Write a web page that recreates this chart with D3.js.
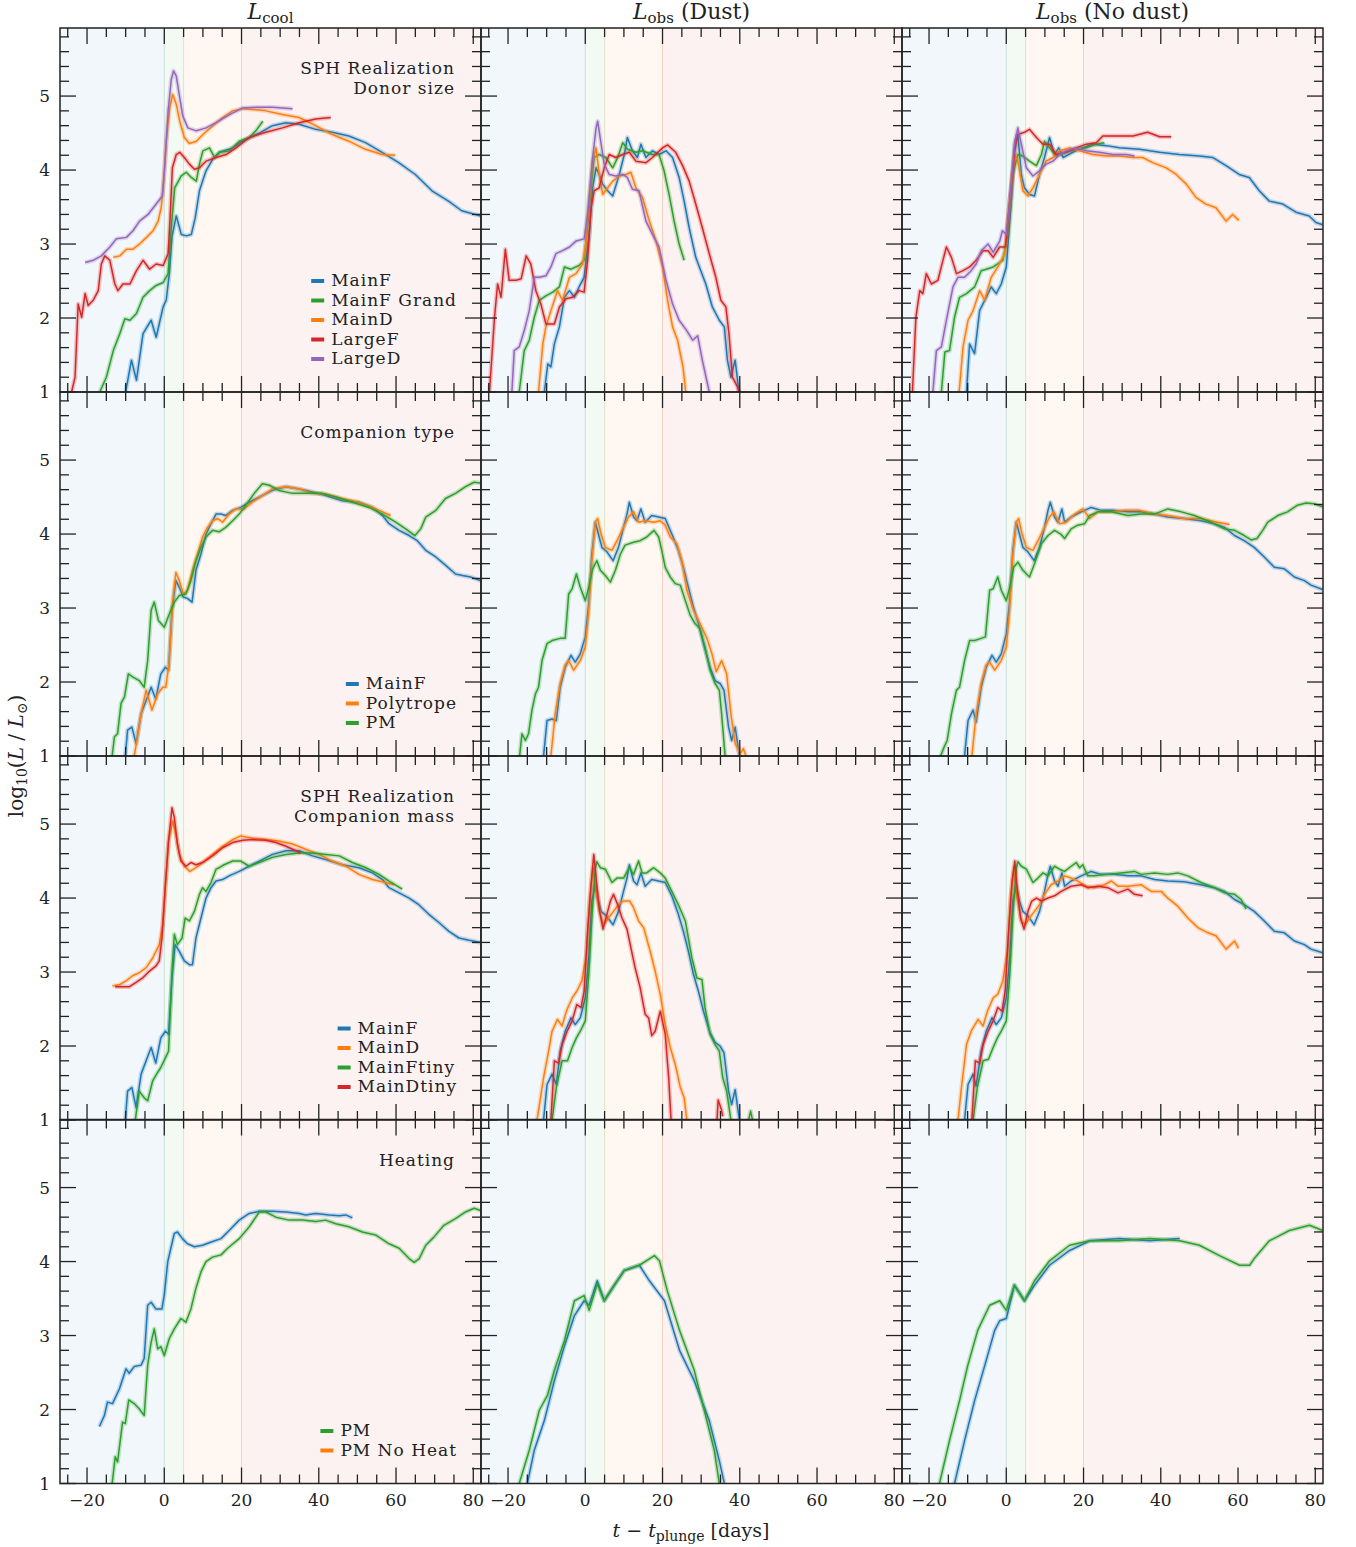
<!DOCTYPE html>
<html lang="en">
<head>
<meta charset="UTF-8">
<title>Luminosity comparison</title>
<script src="https://d3js.org/d3.v7.min.js"></script>
<style>
  body { margin: 0; background: #fff; }
  svg text { font-family: "DejaVu Serif", serif; fill: #222; }
</style>
</head>
<body>
<svg id="chart" width="1356" height="1547"></svg>
<script>
// ---- data: [t - t_plunge (days), log10(L/Lsun)] ----
const colTitles = ["cool", "Dust", "No dust"];
const xTicks = [-20, 0, 20, 40, 60, 80];
const yTicks = [1, 2, 3, 4, 5];

// row 1: donor size / SPH realization
const r1CoolMainF = [[-10,1.0],[-8.5,1.43],[-7.2,1.16],[-5.5,1.79],[-3.4,1.97],[-2.1,1.74],[-0.3,2.15],[0.5,2.24],[1.3,2.6],[2,3.1],[3.1,3.38],[4.4,3.13],[5.7,3.11],[7,3.13],[8,3.35],[9.1,3.72],[10.8,3.99],[12.6,4.15],[14.3,4.24],[17.7,4.3],[20.3,4.39],[24.6,4.5],[28,4.6],[31.5,4.64],[34.9,4.62],[39.2,4.55],[43.5,4.51],[47.8,4.46],[52.1,4.37],[56.4,4.24],[60.7,4.1],[65,3.94],[69.3,3.72],[73.6,3.58],[77,3.45],[81.9,3.38]];
const r1CoolGrand = [[-16.7,1.0],[-15,1.2],[-13.2,1.56],[-11.5,1.79],[-10.2,1.99],[-8.9,1.97],[-7.2,2.06],[-5.5,2.28],[-3.8,2.37],[-2.1,2.44],[-0.3,2.48],[1,2.6],[1.8,3.22],[2.7,3.76],[4.4,3.92],[5.7,3.97],[7,3.9],[8.3,3.85],[9.1,4.08],[10,4.26],[11.7,4.3],[13,4.17],[14.3,4.24],[16.9,4.26],[19.4,4.39],[22,4.44],[23.7,4.53],[25.5,4.66]];
const r1CoolMainD = [[-13.2,2.82],[-11.5,2.84],[-9.8,2.93],[-8.1,2.93],[-6.4,3.0],[-4.6,3.09],[-2.9,3.18],[-1.6,3.31],[-0.8,3.49],[-0.3,3.76],[0.5,4.39],[1.4,4.84],[2.2,5.02],[3.1,4.89],[4,4.66],[5.2,4.44],[6.5,4.36],[8.3,4.39],[10,4.48],[12.6,4.6],[15.1,4.71],[17.7,4.8],[20.3,4.83],[22.9,4.82],[26.3,4.8],[30.6,4.75],[34.9,4.71],[39.2,4.6],[43.5,4.48],[47.8,4.39],[52.1,4.28],[56.4,4.21],[59.8,4.2]];
const r1CoolLargeF = [[-24,1.0],[-23.1,1.2],[-22.3,2.19],[-21.4,2.01],[-20.5,2.33],[-19.7,2.17],[-18.4,2.24],[-17.1,2.37],[-16.3,2.73],[-15.4,2.84],[-14.1,2.78],[-12.8,2.46],[-12,2.37],[-10.7,2.46],[-8.9,2.46],[-7.2,2.64],[-5.5,2.78],[-3.8,2.66],[-2.1,2.73],[-0.3,2.71],[1,2.87],[1.5,3.36],[2.1,4.03],[3.1,4.21],[4,4.24],[5.2,4.17],[6.5,4.08],[7.8,4.01],[9.1,4.03],[10.8,4.12],[13.4,4.17],[16,4.21],[18.6,4.3],[22,4.44],[26.3,4.51],[30.6,4.57],[34.9,4.64],[39.2,4.69],[43.1,4.71]];
const r1CoolLargeD = [[-20.5,2.75],[-18.4,2.78],[-16.3,2.84],[-14.1,2.96],[-12.4,3.07],[-9.8,3.09],[-8.1,3.18],[-6.4,3.31],[-4.2,3.4],[-2.1,3.54],[-0.5,3.65],[0.1,4.03],[1,4.8],[1.8,5.22],[2.4,5.34],[3.1,5.27],[4,4.98],[4.8,4.73],[6.1,4.57],[8.3,4.53],[10.8,4.57],[13.4,4.64],[16.9,4.75],[20.3,4.84],[23.7,4.85],[28,4.85],[33.2,4.83]];

const r1DustMainF = [[-10.6,1],[-9.7,1.38],[-8.9,1.34],[-8,1.65],[-6.7,1.88],[-5.4,2.28],[-4.1,2.37],[-2.8,2.28],[-1.6,2.42],[-0.3,2.55],[1,3.13],[1.9,3.76],[2.8,4.03],[3.6,3.94],[4.5,3.81],[5.8,3.72],[7.1,3.65],[8.8,3.94],[10.1,4.21],[10.9,4.44],[12.2,4.26],[13.5,4.17],[14.4,4.35],[15.7,4.17],[17.4,4.26],[19.1,4.21],[20.9,4.26],[22.6,4.17],[24.3,3.9],[25.6,3.58],[26.9,3.22],[28.6,2.82],[29.9,2.64],[31.2,2.46],[32.9,2.15],[34.7,1.97],[36,1.88],[36.8,1.43],[37.7,1.2],[38.8,1.43],[39.8,1]];
const r1DustGrand = [[-17.1,1],[-15.8,1.56],[-14.5,1.7],[-13.2,2.01],[-11.9,2.24],[-10.2,2.3],[-8.4,2.35],[-6.7,2.42],[-5.4,2.69],[-3.7,2.66],[-1.6,2.71],[-0.3,2.78],[1,3.49],[2.3,4.17],[3.6,4.21],[5.3,4.17],[7.1,4.03],[8.4,4.17],[9.7,4.37],[10.9,4.28],[13.1,4.24],[14.8,4.26],[17.4,4.21],[19.1,4.21],[20.4,3.99],[21.7,3.67],[23,3.31],[24.3,3.0],[25.6,2.78]];
const r1DustMainD = [[-12.1,1],[-11,1.65],[-10.2,1.88],[-8.9,2.1],[-7.2,2.37],[-5.9,2.24],[-4.1,2.55],[-2.4,2.6],[-0.7,2.73],[0.2,3.04],[1,3.58],[1.9,4.12],[2.8,4.3],[3.6,3.94],[4.5,3.67],[5.8,3.76],[7.1,3.85],[8.8,3.92],[10.5,3.94],[11.8,3.97],[13.1,3.76],[14.8,3.63],[16.6,3.31],[18.3,3.04],[20,2.69],[21.3,2.24],[22.6,1.88],[23.9,1.7],[24.7,1.49],[25.3,1.34],[26,1]];
const r1DustLargeF = [[-24.8,1],[-23.5,2.01],[-22.7,2.46],[-21.8,2.28],[-20.7,2.93],[-19.7,2.51],[-17.9,2.51],[-16.6,2.53],[-15.3,2.84],[-14.1,2.73],[-12.8,2.37],[-11.5,2.19],[-10.2,1.92],[-8,1.92],[-6.7,2.15],[-5,2.26],[-3.3,2.28],[-1.6,2.37],[-0.3,2.35],[0.6,2.78],[1.5,3.49],[2.3,3.72],[3.6,3.76],[4.9,4.03],[6.2,4.21],[7.9,4.17],[9.7,4.21],[11.4,4.24],[13.1,4.12],[15.7,4.1],[17.4,4.17],[20,4.3],[21.3,4.34],[23.4,4.24],[25.2,4.06],[26.9,3.85],[28.6,3.54],[30.3,3.22],[32.1,2.87],[33.8,2.55],[35.1,2.24],[36.4,2.15],[37.2,1.79],[38.1,1.2],[39.4,1.07],[39.8,1]];
const r1DustLargeD = [[-19,1],[-18.4,1.56],[-17.1,1.61],[-15.8,1.83],[-14.5,2.1],[-13.2,2.55],[-11.9,2.55],[-10.2,2.57],[-8.9,2.69],[-7.6,2.87],[-5.9,2.91],[-4.1,2.96],[-2.4,3.04],[-0.3,3.07],[0.6,3.4],[1.9,4.17],[2.8,4.57],[3.2,4.66],[4.1,4.35],[4.9,4.08],[6.2,3.94],[7.9,3.92],[9.7,3.94],[10.9,3.9],[12.2,3.74],[13.9,3.72],[15.7,3.31],[17.4,3.13],[19.1,2.96],[20.9,2.51],[22.6,2.19],[24.3,1.97],[26,1.85],[27.8,1.7],[29.1,1.76],[30.3,1.43],[32.1,1]];

const r1NoDustMainF = [[-10.3,1],[-9.5,1.65],[-8.2,1.52],[-6.9,2.1],[-5.2,2.28],[-3.9,2.42],[-2.6,2.33],[-1.3,2.46],[0,2.69],[1.3,3.58],[2.2,4.35],[3,4.48],[3.9,3.94],[4.7,3.76],[6,3.67],[7.3,3.65],[8.6,3.94],[9.9,4.17],[11.2,4.44],[12.5,4.21],[13.6,4.3],[14.7,4.17],[17.2,4.24],[19.8,4.3],[22.4,4.35],[25.9,4.33],[29.3,4.3],[34.5,4.28],[39.7,4.24],[44.8,4.21],[50,4.19],[53.4,4.17],[56.9,4.06],[60.3,3.94],[62.9,3.9],[65.5,3.72],[68.1,3.58],[71.6,3.54],[75,3.43],[78.4,3.38],[80.2,3.29],[81.9,3.26]];
const r1NoDustGrand = [[-16.8,1],[-15.9,1.54],[-14.7,1.56],[-13.4,2.01],[-12.1,2.28],[-10.3,2.33],[-8.2,2.42],[-6.5,2.64],[-5.2,2.66],[-3.4,2.69],[-0.9,2.78],[0.4,3.13],[1.7,3.94],[3,4.21],[4.3,4.19],[6,4.12],[7.8,4.06],[9.1,4.21],[9.9,4.39],[11.2,4.3],[12.9,4.19],[15.5,4.24],[18.1,4.28],[20.7,4.3],[23.3,4.35],[25.4,4.37]];
const r1NoDustMainD = [[-12.2,1],[-11.2,1.61],[-9.9,1.97],[-8.6,2.1],[-6.9,2.37],[-5.6,2.24],[-3.9,2.55],[-2.2,2.69],[-0.4,2.87],[0.9,3.58],[2.2,4.21],[3,4.12],[4.3,3.72],[5.6,3.65],[6.9,3.76],[8.6,3.94],[10.3,4.12],[12.1,4.17],[13.8,4.26],[16.4,4.3],[19,4.26],[22.4,4.21],[25.9,4.19],[29.3,4.19],[32.8,4.17],[35.3,4.17],[37.9,4.1],[41.4,4.03],[44,3.94],[46.6,3.81],[49.1,3.63],[51.7,3.54],[54.3,3.49],[56.9,3.31],[58.6,3.4],[60.2,3.32]];
const r1NoDustLargeF = [[-24.3,1],[-23.4,2.01],[-22.4,2.37],[-21.6,2.33],[-20.7,2.6],[-19.4,2.46],[-17.7,2.51],[-16.4,2.78],[-15.5,2.96],[-14.2,2.82],[-12.9,2.6],[-11.2,2.64],[-9.5,2.69],[-7.8,2.78],[-6,2.91],[-4.7,2.91],[-3.4,2.82],[-1.7,2.96],[-0.2,2.96],[0.9,3.58],[2.2,4.26],[3,4.48],[4.7,4.51],[6,4.55],[7.8,4.44],[9.5,4.35],[11.2,4.35],[12.9,4.21],[15.5,4.24],[18.1,4.3],[20.7,4.35],[23.3,4.37],[25,4.46],[28.4,4.46],[32.8,4.46],[36.6,4.51],[39.7,4.45],[42.7,4.45]];
const r1NoDustLargeD = [[-19,1],[-18.1,1.56],[-16.8,1.61],[-15.5,1.97],[-13.8,2.42],[-12.5,2.55],[-10.8,2.55],[-9.1,2.64],[-7.8,2.73],[-6.5,2.91],[-4.7,3.0],[-3.4,2.89],[-1.7,3.04],[-1,3.18],[0,3.13],[0.9,3.58],[2.2,4.39],[3,4.57],[3.9,4.35],[5.2,4.03],[6.9,3.92],[8.6,3.99],[10.3,4.08],[12.1,4.12],[13.8,4.21],[15.5,4.26],[18.1,4.3],[20.7,4.26],[24.1,4.24],[27.6,4.21],[31,4.21],[33.2,4.19]];

// row 2: companion type
const r2CoolMainF = [[-10.1,1],[-9.5,1.35],[-8.4,1.39],[-7.3,1.17],[-6,1.57],[-4.7,1.75],[-3.4,1.93],[-2.2,1.77],[-0.9,2.11],[0.3,2.2],[1.1,2.16],[2,2.97],[3,3.37],[3.9,3.28],[4.9,3.15],[6,3.13],[7.2,3.08],[8.2,3.51],[9.5,3.73],[10.8,4.0],[12.1,4.14],[13.4,4.27],[14.7,4.27],[15.9,4.25],[17.7,4.32],[19.8,4.36],[22,4.43],[24.6,4.5],[28,4.59],[31.5,4.64],[34.9,4.61],[38.4,4.57],[41.8,4.52],[46.1,4.45],[50.4,4.43],[53.9,4.36],[56.5,4.25],[58.2,4.14],[60.8,4.05],[63.4,3.98],[65.5,3.91],[67.7,3.78],[70.3,3.69],[72.8,3.58],[75.4,3.46],[77.2,3.44],[79.3,3.42],[81.9,3.37]];
const r2CoolPoly = [[-7.8,1],[-7.2,1.17],[-6,1.57],[-4.7,1.89],[-3.2,1.62],[-1.7,1.84],[-0.4,1.93],[0.4,1.93],[1.3,2.29],[2.2,3.1],[3,3.48],[3.9,3.37],[4.9,3.19],[6,3.24],[7.3,3.51],[8.6,3.73],[9.9,3.96],[11.2,4.09],[12.5,4.18],[13.8,4.21],[15.1,4.16],[16.8,4.27],[18.5,4.34],[20.7,4.34],[22.8,4.43],[25.4,4.52],[28,4.61],[31.5,4.64],[34.9,4.61],[38.4,4.55],[41.8,4.54],[46.1,4.48],[50.4,4.43],[53.9,4.36],[56.5,4.3],[58.6,4.25]];
const r2CoolPM = [[-13.5,1],[-12.9,1.26],[-12.1,1.3],[-11.2,1.71],[-10.3,1.8],[-9.3,2.11],[-8.2,2.07],[-6.5,2.02],[-5.2,1.93],[-4.3,2.29],[-3.4,2.97],[-2.6,3.08],[-1.5,2.83],[0,2.74],[1.3,2.92],[2.6,3.08],[3.9,3.17],[5.6,3.19],[6.9,3.37],[8.2,3.64],[9.5,3.82],[10.8,3.96],[12.5,4.05],[14.2,4.03],[15.9,4.09],[17.7,4.18],[19.4,4.27],[21.1,4.39],[23.3,4.55],[25.4,4.68],[27.2,4.66],[29.7,4.59],[33.2,4.55],[36.6,4.55],[40.9,4.55],[44.4,4.5],[48.7,4.43],[53,4.36],[56.5,4.27],[59.9,4.16],[62.5,4.07],[64.9,3.98],[66.4,4.07],[67.7,4.23],[70.3,4.32],[72.8,4.48],[75.4,4.55],[78,4.64],[80.2,4.7],[81.9,4.69]];

const r2DustMainF = [[-10.8,1],[-9.9,1.48],[-8.6,1.5],[-7.5,1.48],[-6.5,1.93],[-5.2,2.2],[-3.7,2.36],[-2.6,2.27],[-1.3,2.38],[0,2.61],[0.9,3.06],[1.7,3.73],[2.6,4.16],[3.4,4.0],[4.3,3.82],[5.6,3.76],[7.2,3.64],[8.6,3.82],[9.9,4.09],[10.8,4.27],[11.4,4.43],[12.5,4.23],[13.4,4.18],[14.4,4.34],[15.5,4.16],[17.2,4.25],[19,4.23],[20.7,4.21],[22.4,4.0],[24.1,3.78],[25.4,3.55],[26.7,3.28],[28,3.01],[29.3,2.79],[30.6,2.52],[32.3,2.2],[33.6,2.02],[34.9,1.98],[35.9,1.89],[37.1,1.39],[37.9,1.21],[38.8,1.39],[39.9,1]];
const r2DustPoly = [[-8.9,1],[-7.8,1.57],[-6.5,1.98],[-5.2,2.23],[-4.3,2.29],[-3,2.16],[-1.3,2.29],[0,2.47],[0.9,2.97],[1.7,3.64],[2.6,4.16],[3.2,4.21],[4.1,4.0],[5.2,3.82],[6.9,3.78],[8.2,3.91],[9.9,4.09],[11.2,4.23],[12.5,4.3],[13.8,4.16],[15.5,4.18],[17.7,4.16],[19.4,4.18],[20.7,4.12],[22,3.96],[23.7,3.87],[25,3.64],[26.3,3.24],[28,2.97],[29.7,2.79],[31.5,2.59],[32.8,2.38],[33.9,2.14],[35.3,2.29],[36.6,2.11],[37.7,1.57],[38.8,1.17],[40.1,1.03],[40.9,1.1],[41.6,1]];
const r2DustPM = [[-17,1],[-16.4,1.3],[-15.5,1.21],[-14.7,1.3],[-13.8,1.62],[-12.9,1.84],[-12.1,1.93],[-11.2,2.29],[-9.9,2.52],[-8.6,2.56],[-6.5,2.59],[-5.2,2.59],[-4.3,3.19],[-3.4,3.26],[-2.3,3.46],[-1.3,3.28],[0,3.1],[0.9,3.28],[1.9,3.53],[3,3.64],[3.9,3.51],[5.2,3.44],[6.5,3.35],[7.8,3.51],[9.1,3.73],[10.3,3.85],[12.5,3.89],[14.2,3.91],[15.9,3.96],[17.8,4.05],[19,3.96],[19.8,3.78],[20.7,3.55],[22,3.42],[23.3,3.33],[24.6,3.31],[25.9,3.1],[27.2,2.9],[28.4,2.79],[29.7,2.72],[31,2.47],[32.3,2.16],[33.6,1.98],[34.7,1.89],[35.3,1.57],[36.2,1]];

const r2NoDustMainF = [[-10.8,1],[-9.9,1.48],[-8.6,1.62],[-7.8,1.46],[-6.5,1.93],[-5.2,2.2],[-3.7,2.36],[-2.6,2.27],[-1.3,2.38],[0,2.65],[0.9,3.1],[1.7,3.78],[2.6,4.16],[3.4,4.0],[4.3,3.82],[5.6,3.76],[7.2,3.64],[8.6,3.82],[9.9,4.09],[10.8,4.32],[11.4,4.43],[12.5,4.23],[13.4,4.16],[14.4,4.34],[15.1,4.16],[16.8,4.23],[19.4,4.3],[22,4.36],[24.6,4.32],[28,4.32],[31.5,4.3],[34.9,4.3],[38.4,4.27],[41.8,4.23],[46.1,4.21],[50.4,4.18],[53.9,4.14],[56.5,4.09],[59.1,3.98],[61.6,3.91],[64.2,3.82],[66.8,3.69],[69.4,3.55],[72,3.53],[74.6,3.42],[77.2,3.37],[78.9,3.31],[81.9,3.25]];
const r2NoDustPoly = [[-8.9,1],[-7.8,1.57],[-6.5,1.98],[-5.2,2.23],[-4.3,2.27],[-3,2.16],[-1.3,2.29],[0,2.47],[0.9,3.01],[1.7,3.73],[2.6,4.16],[3.2,4.21],[4.1,4.0],[5.2,3.82],[6.9,3.78],[8.2,3.91],[9.9,4.09],[11.2,4.23],[12.3,4.3],[13.8,4.14],[15.5,4.16],[17.7,4.27],[19.8,4.34],[21.6,4.21],[23.7,4.3],[27.2,4.3],[30.6,4.32],[34.5,4.32],[38.4,4.27],[41.8,4.25],[46.1,4.21],[50.4,4.21],[54.7,4.16],[57.8,4.13]];
const r2NoDustPM = [[-17,1],[-16.1,1.12],[-15.3,1.21],[-14.2,1.57],[-12.9,1.89],[-12.1,1.93],[-10.8,2.29],[-9.5,2.56],[-8.2,2.56],[-6.5,2.59],[-5.4,2.61],[-4.3,3.24],[-3.4,3.26],[-2.2,3.42],[-1.3,3.24],[0,3.1],[0.9,3.28],[1.9,3.55],[3,3.62],[4.3,3.51],[6,3.42],[7.3,3.6],[9.1,3.87],[10.8,3.98],[12.5,4.05],[14.1,4.0],[15.1,3.94],[16.8,4.07],[18.5,4.12],[20.3,4.14],[21.6,4.25],[23.7,4.3],[27.2,4.3],[31.5,4.25],[34.9,4.27],[38.4,4.27],[41.8,4.34],[45.3,4.3],[48.7,4.25],[53,4.16],[56.5,4.07],[59.1,4.05],[61.6,3.98],[63.4,3.92],[64.9,3.94],[66.4,4.05],[67.7,4.16],[70.3,4.25],[72.8,4.3],[75.4,4.39],[77.6,4.42],[79.7,4.41],[81.9,4.37]];

// row 3: companion mass
const r3CoolMainF = [[-10.1,1],[-9.5,1.39],[-8.4,1.44],[-7.3,1.17],[-6,1.62],[-4.7,1.8],[-3.4,1.98],[-2.2,1.77],[-0.9,2.11],[0.3,2.2],[1.1,2.16],[2,2.92],[2.8,3.37],[3.9,3.28],[5.2,3.15],[6.5,3.1],[7.3,3.1],[8.2,3.46],[9.5,3.73],[10.8,4.0],[12.1,4.14],[13.4,4.23],[15.1,4.25],[16.8,4.3],[19.4,4.36],[22,4.43],[24.6,4.5],[28,4.59],[31.5,4.64],[34.9,4.64],[38.4,4.57],[41.8,4.52],[46.1,4.45],[50.4,4.41],[53.9,4.34],[56.5,4.25],[58.2,4.14],[60.8,4.07],[63.4,4.0],[65.9,3.91],[68.5,3.78],[71.1,3.67],[73.7,3.55],[76.3,3.46],[78.9,3.43],[81.9,3.4]];
const r3CoolMainD = [[-13.4,2.81],[-11.6,2.83],[-9.9,2.88],[-8.2,2.95],[-6.5,2.99],[-4.7,3.06],[-3,3.19],[-1.3,3.37],[-0.4,3.64],[0.3,4.18],[1.1,4.77],[2.2,5.04],[3,4.86],[3.9,4.59],[5.2,4.43],[6.6,4.36],[8.2,4.41],[9.9,4.48],[12.5,4.59],[15.1,4.7],[17.7,4.79],[19.8,4.84],[22.8,4.81],[26.3,4.79],[29.7,4.77],[33.2,4.73],[36.6,4.66],[40.1,4.59],[43.5,4.5],[47,4.43],[50.4,4.32],[53.9,4.25],[57.3,4.21],[59.5,4.18]];
const r3CoolFtiny = [[-7.5,1],[-6.5,1.39],[-5.2,1.3],[-4.3,1.26],[-3,1.53],[-2,1.62],[-0.9,1.71],[0.3,1.84],[1.1,1.93],[2,3.01],[2.6,3.51],[3.4,3.37],[4.6,3.46],[5.4,3.73],[6.5,3.69],[7.8,3.82],[9.1,4.05],[9.9,4.14],[10.8,4.09],[12.1,4.21],[13.4,4.39],[14.2,4.41],[15.5,4.45],[17.7,4.5],[19.8,4.5],[22,4.43],[24.6,4.48],[28,4.55],[31.5,4.59],[34.9,4.61],[38.4,4.61],[41.8,4.59],[45.3,4.57],[48.7,4.48],[52.2,4.41],[55.6,4.32],[58.2,4.23],[61.6,4.12]];
const r3CoolDtiny = [[-12.7,2.8],[-10.8,2.8],[-9.1,2.8],[-7.3,2.86],[-5.6,2.92],[-3.9,3.01],[-2.2,3.08],[-1.3,3.15],[-0.6,3.46],[0.3,4.18],[1.1,4.77],[2,5.22],[2.6,5.09],[3.4,4.73],[4.3,4.5],[5.6,4.43],[6.9,4.48],[8.2,4.45],[9.9,4.48],[12.5,4.57],[15.1,4.68],[17.7,4.75],[20.3,4.78],[22.8,4.79],[26.3,4.78],[28.9,4.75],[31.5,4.7],[34.1,4.64],[35.3,4.61]];

const r3DustMainF = [[-10.8,1],[-9.9,1.48],[-8.6,1.62],[-7.5,1.48],[-6.5,1.93],[-5.2,2.2],[-3.7,2.38],[-2.6,2.29],[-1.3,2.38],[0,2.65],[0.9,3.19],[1.7,3.96],[2.6,4.18],[3.2,4.0],[4.1,3.82],[5.4,3.76],[7.2,3.64],[8.6,3.82],[9.9,4.09],[10.8,4.27],[11.4,4.45],[12.5,4.23],[13.4,4.18],[14.4,4.34],[15.5,4.16],[17.2,4.25],[19,4.23],[20.7,4.21],[22.4,4.03],[24.1,3.78],[25.4,3.55],[26.7,3.28],[28,2.97],[29.3,2.74],[30.6,2.47],[32.3,2.18],[33.6,2.05],[34.9,2.0],[35.9,1.91],[37.1,1.39],[37.9,1.21],[38.8,1.41],[39.9,1]];
const r3DustMainD = [[-12.5,1],[-11.6,1.3],[-10.8,1.57],[-9.5,1.93],[-8.6,2.2],[-7.2,2.36],[-6,2.27],[-4.9,2.47],[-3.4,2.65],[-2.2,2.74],[-0.9,2.88],[0.3,3.24],[1.1,3.96],[2,4.41],[2.8,4.09],[3.7,3.82],[4.7,3.64],[6,3.73],[7.3,3.82],[8.6,3.91],[9.9,3.96],[11.5,3.96],[12.5,3.87],[13.8,3.69],[15.1,3.6],[16.8,3.28],[18.1,3.01],[19.4,2.7],[20.7,2.29],[22,1.98],[23.3,1.75],[24.6,1.44],[25.6,1.3],[26.3,1]];
const r3DustFtiny = [[-8.6,1],[-7.5,1.44],[-6,1.8],[-4.6,1.8],[-3.4,1.98],[-2.3,2.11],[-1.3,2.2],[0,2.34],[0.9,2.97],[1.7,3.73],[2.6,4.41],[3,4.49],[3.9,4.41],[5.2,4.39],[6.9,4.21],[8.2,4.27],[9.9,4.27],[11.4,4.41],[12.5,4.32],[13.8,4.5],[14.7,4.34],[15.9,4.34],[17.7,4.41],[19.4,4.34],[20.7,4.27],[22.4,4.09],[24.1,3.91],[25.9,3.69],[27.6,3.19],[28.9,2.92],[30.2,2.9],[31,2.52],[32.3,2.16],[33.6,2.02],[34.7,1.93],[35.6,1.57],[36.6,1.39],[37.7,1],[42.2,null],[42.3,1.0],[42.8,1.12],[43.3,1.0]];
const r3DustDtiny = [[-8.9,1],[-8,1.8],[-6.9,1.77],[-6,2.02],[-4.7,2.2],[-3.4,2.34],[-2.2,2.56],[-1.1,2.52],[-0.3,2.74],[0.6,3.55],[1.5,4.18],[2.2,4.59],[2.8,4.27],[3.7,3.82],[4.6,3.58],[5.6,3.78],[6.5,3.96],[7.3,4.05],[8.4,3.91],[9.5,3.73],[10.8,3.58],[11.8,3.33],[12.9,3.06],[14.2,2.79],[15.5,2.43],[16.4,2.38],[17.2,2.14],[18.1,2.2],[19.4,2.47],[20.7,2.16],[21.6,1.57],[22.2,1],[34,null],[34.1,1.0],[34.4,1.27],[35.2,1.15],[35.6,1.05]];

const r3NoDustMainF = [[-10.8,1],[-9.9,1.48],[-8.6,1.62],[-7.8,1.46],[-6.5,1.93],[-5.2,2.2],[-3.7,2.38],[-2.6,2.29],[-1.3,2.38],[0,2.65],[0.9,3.19],[1.7,3.96],[2.6,4.16],[3.4,3.96],[4.3,3.82],[5.6,3.76],[7.2,3.64],[8.6,3.82],[9.9,4.09],[10.8,4.32],[11.4,4.43],[12.5,4.23],[13.4,4.16],[14.4,4.34],[15.1,4.16],[16.8,4.23],[19.4,4.3],[22,4.36],[24.6,4.32],[28,4.32],[31.5,4.3],[34.9,4.3],[38.4,4.25],[41.8,4.23],[46.1,4.22],[50.4,4.18],[53.9,4.14],[56.5,4.09],[59.1,3.98],[61.6,3.91],[64.2,3.82],[66.8,3.69],[69.4,3.55],[72,3.53],[74.6,3.42],[77.2,3.37],[78.9,3.31],[81.9,3.26]];
const r3NoDustMainD = [[-12.5,1],[-11.6,1.44],[-10.3,2.02],[-9.1,2.2],[-7.3,2.36],[-6,2.27],[-4.9,2.47],[-3.4,2.65],[-2.2,2.7],[-0.9,2.88],[0.3,3.28],[1.1,4.0],[2,4.41],[2.8,4.0],[3.9,3.69],[4.9,3.64],[6,3.73],[7.3,3.82],[8.6,3.91],[9.9,4.05],[11.6,4.18],[13.4,4.23],[15.1,4.3],[16.8,4.27],[18.5,4.23],[20.7,4.16],[22.8,4.14],[25.4,4.18],[27.2,4.23],[28.9,4.16],[31.5,4.16],[34.9,4.18],[37.5,4.09],[40.1,4.09],[41.8,4.0],[44.4,3.89],[47,3.73],[49.6,3.6],[52.2,3.53],[54.3,3.49],[56.9,3.31],[59.1,3.42],[60.1,3.32]];
const r3NoDustFtiny = [[-8.6,1],[-7.5,1.44],[-6,1.8],[-4.6,1.82],[-3.4,1.98],[-2.3,2.11],[-1.3,2.2],[0,2.34],[0.9,2.97],[1.7,3.78],[2.6,4.41],[3,4.49],[3.9,4.43],[5.2,4.39],[6.9,4.21],[8.2,4.27],[9.5,4.34],[10.8,4.3],[12.5,4.43],[13.8,4.39],[15.1,4.36],[16.8,4.43],[18.1,4.48],[19,4.41],[19.8,4.45],[21.1,4.3],[22.8,4.3],[26.3,4.32],[29.7,4.34],[33.2,4.36],[34.9,4.32],[38.4,4.34],[41.8,4.32],[44.4,4.34],[47,4.3],[50.4,4.21],[53.9,4.14],[56.5,4.07],[59.1,4.05],[60.8,3.98],[62.1,3.85]];
const r3NoDustDtiny = [[-8.9,1],[-8,1.8],[-6.9,1.77],[-6,2.02],[-4.7,2.2],[-3.4,2.34],[-2.2,2.52],[-1.1,2.47],[-0.3,2.74],[0.6,3.55],[1.5,4.23],[2.2,4.5],[2.8,4.14],[3.7,3.73],[4.6,3.58],[5.6,3.82],[6.6,3.96],[7.8,4.0],[9.1,3.96],[10.8,4.0],[12.5,4.03],[14.2,4.09],[16.8,4.16],[19.4,4.18],[21.1,4.14],[23.7,4.16],[26.3,4.14],[28.9,4.07],[31.5,4.12],[33.2,4.05],[35.3,4.03]];

// row 4: heating
const r4CoolBlue = [[-16.8,1.77],[-15.5,1.92],[-14.7,2.1],[-13.4,2.08],[-11.6,2.28],[-9.9,2.55],[-9.1,2.49],[-7.8,2.58],[-6,2.6],[-5.2,2.69],[-4.3,3.41],[-3.4,3.45],[-2.2,3.36],[-0.6,3.36],[0,3.55],[0.9,4.0],[1.7,4.18],[2.6,4.38],[3.4,4.4],[4.7,4.31],[6,4.24],[7.8,4.2],[9.9,4.22],[12.5,4.27],[14.7,4.31],[16.8,4.42],[19.4,4.56],[22,4.65],[24.6,4.68],[28,4.68],[31.5,4.67],[34.9,4.65],[36.6,4.63],[39.2,4.65],[42.7,4.63],[45.3,4.62],[47,4.63],[48.7,4.59]];
const r4CoolGreen = [[-13.5,1],[-12.7,1.36],[-12.1,1.29],[-10.8,1.83],[-10.1,1.81],[-9.2,2.13],[-7.8,2.08],[-6.5,2.01],[-5.2,1.92],[-4.3,2.6],[-3.4,2.91],[-2.6,3.09],[-1.7,2.82],[-0.9,2.85],[0,2.73],[1.3,2.96],[2.6,3.09],[4.3,3.23],[5.6,3.18],[6.9,3.36],[8.2,3.64],[9.5,3.86],[10.8,4.0],[12.5,4.06],[14.7,4.09],[16.4,4.18],[19.4,4.31],[22,4.47],[24.6,4.67],[26.3,4.67],[28.9,4.6],[32.3,4.56],[35.8,4.56],[39.2,4.54],[41.8,4.56],[44.4,4.51],[47.8,4.47],[51.3,4.4],[54.7,4.36],[58.2,4.24],[60.8,4.18],[63.4,4.04],[64.7,3.99],[66,4.04],[67.7,4.22],[69.8,4.33],[72.4,4.49],[75.4,4.58],[78,4.67],[80.2,4.72],[81.9,4.69]];
const r4DustBlue = [[-15,1],[-13.2,1.45],[-10.6,1.85],[-8,2.39],[-5.4,2.86],[-2.8,3.27],[-0.3,3.47],[1,3.41],[3.1,3.74],[4.9,3.47],[7.5,3.68],[10.1,3.88],[14,3.95],[16.6,3.74],[20.5,3.47],[24.4,2.8],[28.2,2.39],[32.1,1.85],[34.7,1.31],[36,1]];
const r4DustGreen = [[-17.1,1],[-14.5,1.45],[-11.9,1.99],[-9.8,2.19],[-8,2.53],[-5.4,2.93],[-2.8,3.47],[-0.3,3.54],[1,3.34],[3.1,3.7],[4.9,3.47],[7.5,3.68],[10.1,3.88],[14,3.95],[17.9,4.08],[19.2,4.01],[21.2,3.61],[24.4,3.07],[28.2,2.53],[30.8,1.99],[33.4,1.45],[34.7,1]];
const r4NoDustBlue = [[-13.4,1],[-10.8,1.58],[-8.2,2.12],[-5.6,2.59],[-3,3.07],[-1.7,3.2],[0,3.23],[2.1,3.68],[4.7,3.47],[7.3,3.68],[11.2,3.95],[16.4,4.15],[21.6,4.28],[29.3,4.31],[37.1,4.28],[44.9,4.31]];
const r4NoDustGreen = [[-17.3,1],[-14.7,1.58],[-12.1,2.12],[-10,2.59],[-7.4,3.07],[-4.3,3.41],[-1.7,3.47],[0,3.34],[2.1,3.68],[4.7,3.47],[7.3,3.74],[11.2,4.01],[16.4,4.22],[21.6,4.28],[29.3,4.28],[37.1,4.31],[44.9,4.28],[50,4.22],[55.2,4.08],[60.4,3.95],[63,3.95],[64.2,4.04],[68.1,4.28],[73.3,4.42],[78.5,4.49],[81.9,4.42]];

const blue = "#1f77b4", orange = "#ff7f0e", green = "#2ca02c", red = "#d62728", purple = "#9467bd";

const rows = [
  { note: ["SPH Realization", "Donor size"],
    legend: [["MainF", blue], ["MainF Grand", green], ["MainD", orange], ["LargeF", red], ["LargeD", purple]],
    cols: [
      [[r1CoolMainF, blue], [r1CoolGrand, green], [r1CoolMainD, orange], [r1CoolLargeF, red], [r1CoolLargeD, purple]],
      [[r1DustMainF, blue], [r1DustGrand, green], [r1DustMainD, orange], [r1DustLargeF, red], [r1DustLargeD, purple]],
      [[r1NoDustMainF, blue], [r1NoDustGrand, green], [r1NoDustMainD, orange], [r1NoDustLargeF, red], [r1NoDustLargeD, purple]]
    ] },
  { note: ["Companion type"],
    legend: [["MainF", blue], ["Polytrope", orange], ["PM", green]],
    cols: [
      [[r2CoolMainF, blue], [r2CoolPoly, orange], [r2CoolPM, green]],
      [[r2DustMainF, blue], [r2DustPoly, orange], [r2DustPM, green]],
      [[r2NoDustMainF, blue], [r2NoDustPoly, orange], [r2NoDustPM, green]]
    ] },
  { note: ["SPH Realization", "Companion mass"],
    legend: [["MainF", blue], ["MainD", orange], ["MainFtiny", green], ["MainDtiny", red]],
    cols: [
      [[r3CoolMainF, blue], [r3CoolMainD, orange], [r3CoolFtiny, green], [r3CoolDtiny, red]],
      [[r3DustMainF, blue], [r3DustMainD, orange], [r3DustFtiny, green], [r3DustDtiny, red]],
      [[r3NoDustMainF, blue], [r3NoDustMainD, orange], [r3NoDustFtiny, green], [r3NoDustDtiny, red]]
    ] },
  { note: ["Heating"],
    legend: [["PM", green], ["PM No Heat", orange]],
    cols: [
      [[r4CoolBlue, blue], [r4CoolGreen, green]],
      [[r4DustBlue, blue], [r4DustGreen, green]],
      [[r4NoDustBlue, blue], [r4NoDustGreen, green]]
    ] }
];

// phase shading
const phases = [
  { from: -27, to: 0, color: blue },
  { from: 0, to: 5, color: green },
  { from: 5, to: 20, color: orange },
  { from: 20, to: 82, color: red }
];

// ---- layout ----
const colX = [60, 481, 902];
const rowY = [28, 392, 756, 1119.5];
const PW = 421, PH = 364;

const x = d3.scaleLinear().domain([-27, 82]).range([0, PW]);
const y = d3.scaleLinear().domain([1, 5.92]).range([PH, 0]);

const svg = d3.select("#chart");
const ink = "#222";

const line = d3.line()
  .defined(d => d[1] != null)
  .x(d => x(d[0]))
  .y(d => y(d[1]));

rows.forEach((row, ri) => {
  row.cols.forEach((series, ci) => {
    const g = svg.append("g").attr("transform", `translate(${colX[ci]},${rowY[ri]})`);
    const clipId = `clip-${ri}-${ci}`;
    g.append("clipPath").attr("id", clipId)
      .append("rect").attr("width", PW).attr("height", PH);

    // shaded phases
    g.selectAll(".phase").data(phases).enter().append("rect")
      .attr("x", d => x(d.from))
      .attr("width", d => x(d.to) - x(d.from))
      .attr("height", PH)
      .attr("fill", d => d.color).attr("fill-opacity", 0.06)
      .attr("stroke", d => d.color).attr("stroke-opacity", 0.1).attr("stroke-width", 1)
      .attr("clip-path", `url(#${clipId})`);

    const plot = g.append("g").attr("clip-path", `url(#${clipId})`);
    // faint halo for the unsmoothed curve, then the smoothed line
    series.forEach(([data, color]) => {
      plot.append("path").attr("d", line(data))
        .attr("fill", "none").attr("stroke", color)
        .attr("stroke-width", 4.5).attr("stroke-opacity", 0.25)
        .attr("stroke-linejoin", "round");
      plot.append("path").attr("d", line(data))
        .attr("fill", "none").attr("stroke", color)
        .attr("stroke-width", 1.5).attr("stroke-linejoin", "round");
    });

    // ticks (inward on all four sides)
    const xt = d3.range(-25, 81, 5);
    g.selectAll(".xb").data(xt).enter().append("line")
      .attr("x1", d => x(d)).attr("x2", d => x(d))
      .attr("y1", PH).attr("y2", d => PH - (d % 20 === 0 ? 16 : 9))
      .attr("stroke", ink).attr("stroke-width", 1.3);
    g.selectAll(".xt").data(xt).enter().append("line")
      .attr("x1", d => x(d)).attr("x2", d => x(d))
      .attr("y1", 0).attr("y2", d => (d % 20 === 0 ? 16 : 9))
      .attr("stroke", ink).attr("stroke-width", 1.3);
    const yt = d3.range(0, 25).map(i => 1 + i * 0.2);
    const isMajor = v => Math.abs(v - Math.round(v)) < 1e-6;
    g.selectAll(".yl").data(yt).enter().append("line")
      .attr("y1", d => y(d)).attr("y2", d => y(d))
      .attr("x1", 0).attr("x2", d => (isMajor(d) ? 16 : 9))
      .attr("stroke", ink).attr("stroke-width", 1.3);
    g.selectAll(".yr").data(yt).enter().append("line")
      .attr("y1", d => y(d)).attr("y2", d => y(d))
      .attr("x1", PW).attr("x2", d => PW - (isMajor(d) ? 16 : 9))
      .attr("stroke", ink).attr("stroke-width", 1.3);

    g.append("rect").attr("width", PW).attr("height", PH)
      .attr("fill", "none").attr("stroke", ink).attr("stroke-width", 1.5);

    if (ci === 0) {
      g.selectAll(".ylab").data(yTicks).enter().append("text")
        .attr("x", -10).attr("y", d => y(d) + 6)
        .attr("text-anchor", "end").attr("font-size", 17)
        .text(d => d);

      // annotation, top right
      g.selectAll(".note").data(row.note).enter().append("text")
        .attr("x", 395).attr("y", (d, i) => 46 + i * 19.5)
        .attr("text-anchor", "end").attr("font-size", 17).attr("letter-spacing", 1)
        .text(d => d);

      // legend, lower right
      const n = row.legend.length;
      const lg = g.append("g");
      const items = lg.selectAll("g").data(row.legend).enter().append("g")
        .attr("transform", (d, i) => `translate(0,${PH - 28 - (n - 1 - i) * 19.5})`);
      items.append("text").attr("x", 20).attr("y", 0)
        .attr("font-size", 17).attr("letter-spacing", 1).text(d => d[0]);
      let maxW = 0;
      items.selectAll("text").each(function () { maxW = Math.max(maxW, this.getComputedTextLength()); });
      items.append("line").attr("x1", 0).attr("x2", 13).attr("y1", -5).attr("y2", -5)
        .attr("stroke", d => d[1]).attr("stroke-width", 4);
      lg.attr("transform", `translate(${397 - 20 - maxW},0)`);
    }

    if (ri === rows.length - 1) {
      g.selectAll(".xlab").data(xTicks).enter().append("text")
        .attr("x", d => x(d)).attr("y", PH + 22)
        .attr("text-anchor", "middle").attr("font-size", 17)
        .text(d => (d < 0 ? "\u2212" + Math.abs(d) : d));
    }
  });
});

// column titles
colTitles.forEach((name, ci) => {
  const t = svg.append("text")
    .attr("x", colX[ci] + PW / 2).attr("y", 19)
    .attr("text-anchor", "middle").attr("font-size", 22);
  t.append("tspan").attr("font-style", "italic").text("L");
  t.append("tspan").attr("font-size", 15).attr("dy", 4).text(ci === 0 ? "cool" : "obs");
  if (ci > 0) t.append("tspan").attr("dy", -4).text(` (${name})`);
});

// axis labels
const yl = svg.append("text")
  .attr("transform", "translate(23,756) rotate(-90)")
  .attr("text-anchor", "middle").attr("font-size", 20);
yl.append("tspan").text("log");
yl.append("tspan").attr("font-size", 14).attr("dy", 4).text("10");
yl.append("tspan").attr("dy", -4).text("(");
yl.append("tspan").attr("font-style", "italic").text("L");
yl.append("tspan").text(" / ");
yl.append("tspan").attr("font-style", "italic").text("L");
yl.append("tspan").attr("font-size", 14).attr("dy", 4).text("\u2299");
yl.append("tspan").attr("dy", -4).text(")");

const xl = svg.append("text")
  .attr("x", 691).attr("y", 1537)
  .attr("text-anchor", "middle").attr("font-size", 19);
xl.append("tspan").attr("font-style", "italic").text("t");
xl.append("tspan").text(" \u2212 ");
xl.append("tspan").attr("font-style", "italic").text("t");
xl.append("tspan").attr("font-size", 14).attr("dy", 4).text("plunge");
xl.append("tspan").attr("dy", -4).text(" [days]");
</script>
</body>
</html>
